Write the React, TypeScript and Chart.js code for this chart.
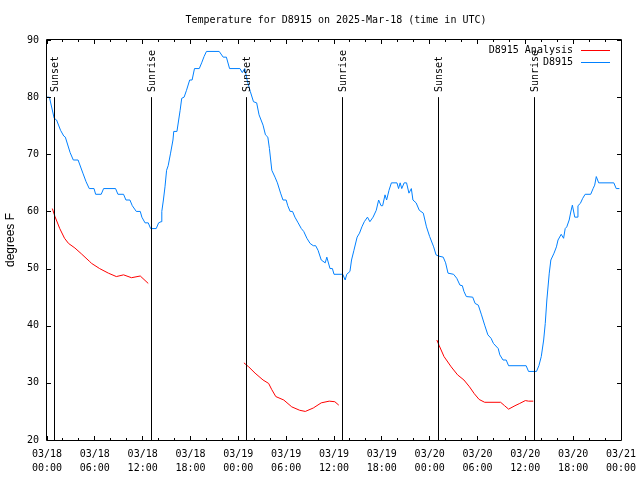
import React, { useEffect, useRef } from "react";
import { Chart, registerables } from "chart.js";

Chart.register(...registerables);

const titleText = "Temperature for D8915 on 2025-Mar-18 (time in UTC)";
const yAxisLabel = "degrees F";
const yTickValues = [20, 30, 40, 50, 60, 70, 80, 90];
const xTickLabels = [
  ["03/18", "00:00"], ["03/18", "06:00"], ["03/18", "12:00"], ["03/18", "18:00"],
  ["03/19", "00:00"], ["03/19", "06:00"], ["03/19", "12:00"], ["03/19", "18:00"],
  ["03/20", "00:00"], ["03/20", "06:00"], ["03/20", "12:00"], ["03/20", "18:00"],
  ["03/21", "00:00"],
];

// Observed series (hours after 03/18 00:00 UTC, degrees F)
const obsHours = [
  0, 0.3, 0.9, 1.2, 1.7, 2.1, 2.3, 2.9, 3.3, 3.9, 4.5, 4.9, 5.3, 5.9, 6.1, 6.8, 7.1, 8.6, 8.9, 9.6,
  9.9, 10.4, 10.7, 11.2, 11.7, 11.9, 12.3, 12.7, 13.0, 13.7, 14.0, 14.3, 14.4, 14.6, 14.8, 15.0, 15.2, 15.5, 15.8, 15.9,
  16.3, 16.7, 16.9, 17.2, 17.5, 17.9, 18.2, 18.5, 19.1, 19.4, 19.7, 20.0, 21.6, 22.1, 22.5, 22.9, 24.2, 24.5, 24.8, 25.1,
  25.5, 25.9, 26.3, 26.6, 27.1, 27.4, 27.7, 27.9, 28.2, 28.6, 28.9, 29.3, 29.6, 30.0, 30.2, 30.5, 30.8, 31.1, 31.5, 31.9,
  32.2, 32.6, 33.0, 33.4, 33.7, 34.0, 34.4, 34.9, 35.1, 35.5, 35.8, 36.0, 36.9, 37.1, 37.4, 37.6, 38.0, 38.2, 38.5, 38.9,
  39.2, 39.5, 39.8, 40.2, 40.5, 40.9, 41.3, 41.6, 41.9, 42.1, 42.4, 42.6, 42.9, 43.2, 43.9, 44.1, 44.3, 44.5, 44.8, 45.1,
  45.4, 45.7, 45.9, 46.3, 46.7, 47.2, 47.6, 48.0, 48.5, 48.8, 49.1, 49.7, 50.0, 50.3, 51.0, 51.4, 51.8, 52.1, 52.3, 52.6,
  53.4, 53.7, 54.1, 54.5, 54.9, 55.3, 55.7, 56.0, 56.6, 56.8, 57.2, 57.6, 57.9, 60.1, 60.4, 61.4, 61.7, 62.0, 62.3, 62.5,
  62.7, 63.0, 63.2, 63.6, 63.9, 64.1, 64.5, 64.8, 65.0, 65.2, 65.5, 65.7, 65.9, 66.2, 66.5, 66.6, 66.9, 67.2, 67.5, 68.2,
  68.5, 68.7, 68.9, 69.2, 71.1, 71.4, 71.8,
];
const obsTemps = [
  80, 80, 76.3, 76, 74.2, 73.2, 73, 70.3, 69, 69, 66.7, 65.2, 64, 64, 63, 63, 64, 64, 63, 63,
  62, 62, 61, 60, 60, 59, 58, 58, 57, 57, 58, 58.2, 60, 62, 64.3, 67.2, 68, 70.2, 72.5, 74,
  74, 77.7, 79.8, 80, 81.2, 83, 83, 85, 85, 86, 87.1, 88, 88, 87, 87, 85, 85, 84.3, 85, 83,
  81, 79.2, 79, 76.9, 75.1, 73.4, 73, 71, 67.2, 66, 65, 63.2, 62, 62, 61, 60, 60, 59, 58, 57,
  56.5, 55.3, 54.4, 54, 54, 53.2, 51.5, 51, 52, 50, 50, 49, 49, 49, 48, 49, 49.5, 51.5, 53.2, 55.5,
  56.2, 57.3, 58.2, 59, 58.2, 59, 60.2, 62, 61, 61, 62.9, 62, 63.7, 65, 65, 64, 65, 64, 65, 65,
  63.2, 64, 62, 61.5, 60.2, 59.7, 57.3, 55.6, 53.8, 52.4, 52.2, 52, 51, 49.2, 49, 48.3, 47.1, 47, 46, 45.1,
  45, 43.9, 43.6, 41.9, 40.1, 38.4, 37.8, 36.9, 36, 34.9, 34, 34, 33, 33, 32, 32, 33, 34.6, 37.5, 40.4,
  44.5, 49.2, 51.5, 52.7, 53.8, 55, 56, 55.3, 57, 57.3, 58.5, 59.9, 61.1, 59, 59, 61, 61.4, 62.3, 63, 63,
  64, 64.6, 66.1, 65, 65, 64, 64,
];

// Analysis series (nights only; null separates the nights)
const anaHours = [
  0.67, 1.0, 1.6, 2.2, 2.7, 3.5, 4.3, 5.3, 5.6, 6.6, 7.7, 8.7, 9.6, 10.6, 11.7, 12.7,
  13.0,
  24.7, 25.3, 26.1, 27.1, 27.8, 28.2, 28.7, 29.7, 30.7, 31.7, 32.4, 33.4, 34.4, 35.4, 36.1, 36.6,
  37.0,
  48.9, 49.2, 49.8, 50.7, 51.5, 52.3, 53.0, 53.6, 54.2, 54.9, 56.9, 57.4, 57.9, 58.7, 59.3, 60.0, 60.4, 61.0,
];
const anaTemps = [
  60.5, 59.1, 57.0, 55.3, 54.4, 53.6, 52.6, 51.3, 50.9, 50.0, 49.2, 48.6, 48.9, 48.4, 48.7, 47.4,
  null,
  33.5, 32.8, 31.7, 30.5, 29.9, 28.8, 27.6, 27.0, 25.8, 25.2, 25.0, 25.6, 26.5, 26.8, 26.7, 26.1,
  null,
  37.5, 36.5, 34.6, 32.8, 31.4, 30.5, 29.3, 28.1, 27.1, 26.6, 26.6, 26.0, 25.4, 26.0, 26.4, 26.9, 26.8, 26.8,
];

const sunHours = [0.92, 13.12, 25.05, 37.05, 49.08, 61.12];
const sunLabels = ["Sunset", "Sunrise", "Sunset", "Sunrise", "Sunset", "Sunrise"];
const sunLineTop = 80;
const sunLabelBase = 80.9;

const seriesNames = ["D8915 Analysis", "D8915"];
const seriesColors = ["#ff0000", "#0080ff"];

const MONO = "10px 'DejaVu Sans Mono', 'Liberation Mono', monospace";

const decorPlugin = {
  id: "decor",
  afterDatasetsDraw(chart: any) {
    const { ctx, chartArea, scales } = chart;
    const xs = scales.x;
    const ys = scales.y;
    const L = chartArea.left, R = chartArea.right, T = chartArea.top, B = chartArea.bottom;
    ctx.save();
    ctx.strokeStyle = "#000";
    ctx.fillStyle = "#000";
    ctx.lineWidth = 1;

    // sun lines + labels
    sunHours.forEach((h, i) => {
      const x = Math.floor(xs.getPixelForValue(h)) + 0.5;
      ctx.beginPath();
      ctx.moveTo(x, ys.getPixelForValue(ys.min));
      ctx.lineTo(x, ys.getPixelForValue(sunLineTop));
      ctx.stroke();
      ctx.save();
      ctx.translate(x + 1, ys.getPixelForValue(sunLabelBase));
      ctx.rotate(-Math.PI / 2);
      ctx.font = MONO;
      ctx.textAlign = "left";
      ctx.textBaseline = "middle";
      ctx.fillText(sunLabels[i], 0, 0);
      ctx.restore();
    });

    // border
    ctx.beginPath();
    ctx.rect(L - 0.5, T - 0.5, R - L + 1, B - T + 1);
    ctx.stroke();

    // ticks (inward, mirrored)
    ctx.beginPath();
    for (let h = 0; h <= 72; h += 2) {
      const x = Math.floor(xs.getPixelForValue(h)) + 0.5;
      const len = h % 6 === 0 ? 4 : 2;
      ctx.moveTo(x, B);
      ctx.lineTo(x, B - len);
      ctx.moveTo(x, T);
      ctx.lineTo(x, T + len);
    }
    yTickValues.forEach((v) => {
      const y = Math.round(ys.getPixelForValue(v)) + 0.5;
      ctx.moveTo(L, y);
      ctx.lineTo(L + 4, y);
      ctx.moveTo(R, y);
      ctx.lineTo(R - 4, y);
    });
    ctx.stroke();

    // title
    ctx.font = MONO;
    ctx.textAlign = "center";
    ctx.textBaseline = "middle";
    ctx.fillText(titleText, (L + R) / 2 + 2, 20.5);

    // legend
    ctx.textAlign = "right";
    seriesNames.forEach((n, i) => {
      const y = 50 + i * 12;
      ctx.fillStyle = "#000";
      ctx.fillText(n, 573, y);
      ctx.strokeStyle = seriesColors[i];
      ctx.beginPath();
      ctx.moveTo(581, Math.round(y) + 0.5);
      ctx.lineTo(610, Math.round(y) + 0.5);
      ctx.stroke();
    });

    // y axis label
    ctx.save();
    ctx.fillStyle = "#000";
    ctx.translate(11, (T + B) / 2);
    ctx.rotate(-Math.PI / 2);
    ctx.font = "12px 'Liberation Sans', Arial, sans-serif";
    ctx.textAlign = "center";
    ctx.textBaseline = "middle";
    ctx.fillText(yAxisLabel, 0, 0);
    ctx.restore();

    ctx.restore();
  },
};

export default function App() {
  const ref = useRef<HTMLCanvasElement | null>(null);
  useEffect(() => {
    if (!ref.current) return;
    const chart = new Chart(ref.current, {
      type: "line",
      data: {
        datasets: [
          {
            label: seriesNames[0],
            data: anaHours.map((h, i) => ({ x: h, y: anaTemps[i] })),
            borderColor: seriesColors[0],
            borderWidth: 1,
            pointRadius: 0,
            fill: false,
            spanGaps: false,
            tension: 0,
          },
          {
            label: seriesNames[1],
            data: obsHours.map((h, i) => ({ x: h, y: obsTemps[i] })),
            borderColor: seriesColors[1],
            borderWidth: 1,
            pointRadius: 0,
            fill: false,
            tension: 0,
          },
        ],
      },
      options: {
        animation: false,
        responsive: false,
        maintainAspectRatio: false,
        events: [],
        layout: { padding: { top: 40, right: 19, left: 0, bottom: 0 } },
        plugins: {
          legend: { display: false },
          title: { display: false },
          tooltip: { enabled: false },
        },
        scales: {
          x: {
            type: "linear",
            min: 0,
            max: 72,
            border: { display: false },
            grid: { display: false, drawTicks: false },
            afterFit: (s: any) => {
              s.height = 40;
              s.paddingLeft = 0;
              s.paddingRight = 0;
            },
            ticks: {
              stepSize: 6,
              autoSkip: false,
              maxRotation: 0,
              minRotation: 0,
              padding: 8,
              color: "#000",
              font: { family: "'DejaVu Sans Mono', 'Liberation Mono', monospace", size: 10, lineHeight: 1.35 },
              callback: (v: any) => xTickLabels[Math.round(Number(v) / 6)] as any,
            },
          },
          y: {
            type: "linear",
            min: 20,
            max: 90,
            border: { display: false },
            grid: { display: false, drawTicks: false },
            afterFit: (s: any) => {
              s.width = 47;
              s.paddingTop = 0;
              s.paddingBottom = 0;
            },
            ticks: {
              stepSize: 10,
              padding: 8,
              color: "#000",
              font: { family: "'DejaVu Sans Mono', 'Liberation Mono', monospace", size: 10 },
            },
          },
        },
      },
      plugins: [decorPlugin],
    } as any);
    return () => chart.destroy();
  }, []);
  return (
    <div style={{ position: "fixed", left: 0, top: 0, width: 640, height: 480, background: "#fff" }}>
      <canvas ref={ref} width={640} height={480} style={{ width: 640, height: 480, display: "block" }} />
    </div>
  );
}
